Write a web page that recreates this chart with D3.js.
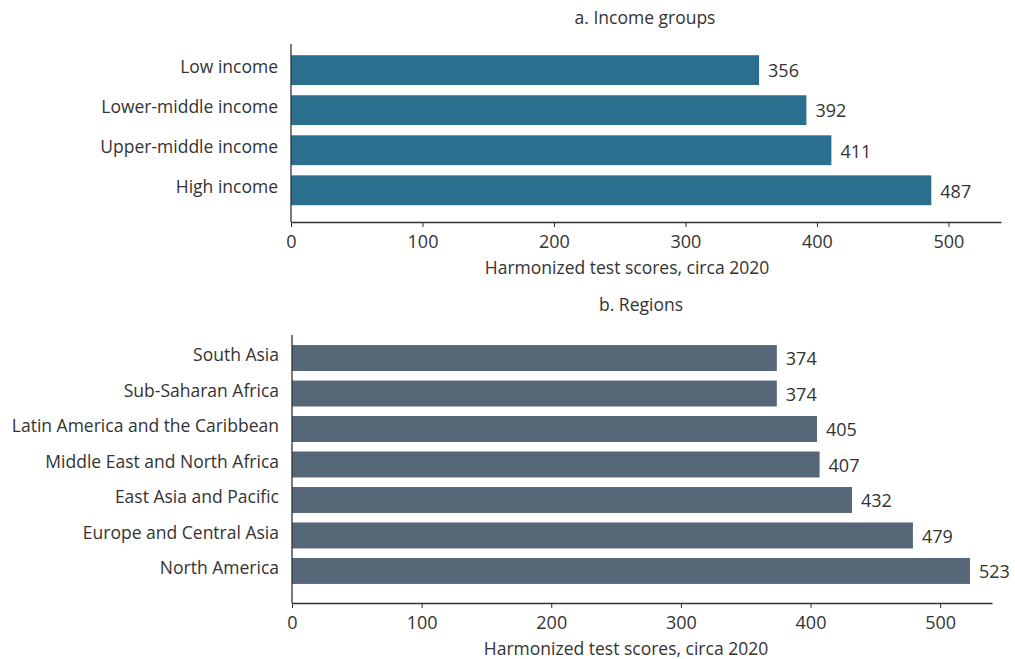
<!DOCTYPE html>
<html>
<head>
<meta charset="utf-8">
<script src="https://cdn.jsdelivr.net/npm/d3@7"></script>
<style>
  body { margin: 0; background: #fff; }
  svg text { font-family: "Open Sans", sans-serif; fill: #333; }
</style>
</head>
<body>
<div id="chart"></div>
<script>
const incomeGroups = ["Low income", "Lower-middle income", "Upper-middle income", "High income"];
const incomeScores = [356, 392, 411, 487];

const regions = ["South Asia", "Sub-Saharan Africa", "Latin America and the Caribbean",
  "Middle East and North Africa", "East Asia and Pacific", "Europe and Central Asia", "North America"];
const regionScores = [374, 374, 405, 407, 432, 479, 523];

const xTicks = [0, 100, 200, 300, 400, 500];
const axisTitle = "Harmonized test scores, circa 2020";

const width = 1015, height = 659;
const fs = "17.5px";

const svg = d3.select("#chart")
  .append("svg")
  .attr("width", width)
  .attr("height", height);

function panel(opts) {
  const g = svg.append("g");
  const x = d3.scaleLinear().domain([0, 540]).range([opts.x0, opts.x1]);
  const y = d3.scaleBand()
    .domain(opts.cats)
    .range([opts.y0, opts.y1])
    .paddingInner(opts.pi)
    .paddingOuter(opts.po)
    .align(opts.align);

  // title
  g.append("text")
    .attr("x", opts.titleX)
    .attr("y", opts.titleY)
    .attr("text-anchor", "middle")
    .style("font-size", fs)
    .text(opts.title);

  // bars
  g.selectAll("rect")
    .data(opts.vals)
    .enter()
    .append("rect")
    .attr("x", x(0))
    .attr("y", (d, i) => y(opts.cats[i]))
    .attr("width", d => x(d) - x(0))
    .attr("height", y.bandwidth())
    .attr("fill", opts.color);

  // value labels
  g.selectAll(".val")
    .data(opts.vals)
    .enter()
    .append("text")
    .attr("class", "val")
    .attr("x", d => x(d) + 9)
    .attr("y", (d, i) => y(opts.cats[i]) + y.bandwidth() / 2 + 1)
    .attr("dy", "0.35em")
    .style("font-size", "18px")
    .text(d => d);

  // category labels
  g.selectAll(".cat")
    .data(opts.cats)
    .enter()
    .append("text")
    .attr("class", "cat")
    .attr("x", opts.x0 - 13)
    .attr("y", d => y(d) + y.bandwidth() / 2 - 3)
    .attr("dy", "0.35em")
    .attr("text-anchor", "end")
    .style("font-size", fs)
    .text(d => d);

  // y axis line
  g.append("line")
    .attr("x1", opts.x0).attr("x2", opts.x0)
    .attr("y1", opts.y0).attr("y2", opts.y1)
    .attr("stroke", "#333").attr("stroke-width", 1.3);

  // x axis
  const ax = g.append("g")
    .attr("transform", `translate(0,${opts.y1})`)
    .call(d3.axisBottom(x).tickValues(xTicks).tickSize(5).tickSizeOuter(0).tickPadding(8));
  ax.select(".domain").attr("stroke", "#333").attr("stroke-width", 1.3);
  ax.selectAll(".tick line").attr("stroke", "#333");
  ax.selectAll(".tick text")
    .style("font-size", "18px")
    .style("font-family", "'Open Sans', sans-serif")
    .attr("fill", "#333");

  g.append("text")
    .attr("x", opts.axisTitleX)
    .attr("y", opts.y1 + 52)
    .attr("text-anchor", "middle")
    .style("font-size", fs)
    .text(axisTitle);
}

panel({
  cats: incomeGroups, vals: incomeScores, color: "#2a708e",
  x0: 291, x1: 1001, y0: 44, y1: 222,
  pi: 0.255, po: 0.35, align: 0.4,
  title: "a. Income groups", titleX: 645, titleY: 24,
  axisTitleX: 627
});

panel({
  cats: regions, vals: regionScores, color: "#566878",
  x0: 292, x1: 992, y0: 335, y1: 603,
  pi: 0.268, po: 0.41, align: 0.345,
  title: "b. Regions", titleX: 641, titleY: 311,
  axisTitleX: 626
});
</script>
</body>
</html>
